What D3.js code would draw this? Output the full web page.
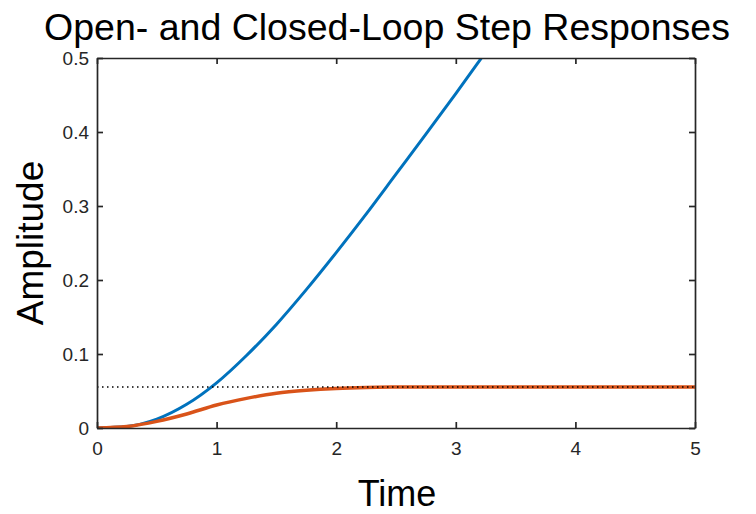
<!DOCTYPE html>
<html lang="en">
<head>
<meta charset="UTF-8">
<title>Open- and Closed-Loop Step Responses</title>
<script src="https://d3js.org/d3.v7.min.js"></script>
<style>
  body { margin: 0; background: #fff; }
  svg { display: block; }
</style>
</head>
<body>
<div id="chart"></div>
<script>
// Sample times (s)
const times = [0, 0.25, 0.5, 0.75, 1.0, 1.25, 1.5, 1.75, 2.0, 2.25, 2.5, 2.75, 3.0, 3.25,
  3.5, 4.0, 4.5, 5.0];
// Open-loop step response (goes off the top of the axes)
const openLoop = [0, 0.002, 0.012, 0.032, 0.061, 0.098, 0.140, 0.187, 0.237, 0.289,
  0.343, 0.397, 0.452, 0.508, 0.564, 0.676, 0.788, 0.900];
// Closed-loop step response
const closedLoop = [0, 0.002, 0.009, 0.019, 0.031, 0.040, 0.047, 0.051, 0.0535, 0.0548,
  0.0553, 0.0555, 0.0555, 0.0555, 0.0554, 0.0554, 0.0554, 0.0554];
// Closed-loop steady-state value (dotted line)
const steadyState = 0.0554;

const xTicks = [0, 1, 2, 3, 4, 5];
const yTicks = [0, 0.1, 0.2, 0.3, 0.4, 0.5];

const W = 756, H = 514;
const margin = { top: 58, right: 61, bottom: 86, left: 97 };
const width = W - margin.left - margin.right;
const height = H - margin.top - margin.bottom;
const axisColor = "#262626";
const font = "'Liberation Sans', Arial, Helvetica, sans-serif";

const svg = d3.select("#chart").append("svg")
  .attr("width", W)
  .attr("height", H)
  .style("font-family", font);

const g = svg.append("g")
  .attr("transform", "translate(" + margin.left + "," + margin.top + ")");

const x = d3.scaleLinear().domain([0, 5]).range([0, width]);
const y = d3.scaleLinear().domain([0, 0.5]).range([height, 0]);

g.append("clipPath").attr("id", "plot-clip")
  .append("rect").attr("width", width).attr("height", height);

const line = d3.line()
  .x((d, i) => x(times[i]))
  .y(d => y(d))
  .curve(d3.curveMonotoneX);

const plot = g.append("g").attr("clip-path", "url(#plot-clip)");

plot.append("path")
  .datum(openLoop)
  .attr("fill", "none")
  .attr("stroke", "#0072BD")
  .attr("stroke-width", 3)
  .attr("d", line);

plot.append("path")
  .datum(closedLoop)
  .attr("fill", "none")
  .attr("stroke", "#D95319")
  .attr("stroke-width", 3.5)
  .attr("d", line);

// steady-state marker line, drawn over the curves
plot.append("line")
  .attr("x1", x(0)).attr("x2", x(5))
  .attr("y1", y(steadyState)).attr("y2", y(steadyState))
  .attr("stroke", "#000")
  .attr("stroke-width", 1.3)
  .attr("stroke-dasharray", "1.5,3.5");

// Axes (MATLAB style: box, ticks inside on all four sides)
function styleAxis(sel, hideText) {
  sel.attr("font-family", font).attr("font-size", 19);
  sel.select(".domain").attr("stroke", axisColor).attr("stroke-width", 1.7);
  sel.selectAll(".tick line").attr("stroke", axisColor).attr("stroke-width", 1.7);
  sel.selectAll(".tick text").attr("fill", axisColor);
  if (hideText) sel.selectAll(".tick text").remove();
}

g.append("g")
  .attr("transform", "translate(0," + height + ")")
  .call(d3.axisBottom(x).tickValues(xTicks).tickSize(-6).tickSizeOuter(0).tickPadding(14)
    .tickFormat(d3.format("d")))
  .call(s => styleAxis(s, false));

g.append("g")
  .call(d3.axisTop(x).tickValues(xTicks).tickSize(-6).tickSizeOuter(0))
  .call(s => styleAxis(s, true));

g.append("g")
  .call(d3.axisLeft(y).tickValues(yTicks).tickSize(-6).tickSizeOuter(0).tickPadding(8)
    .tickFormat(d => d === 0 ? "0" : d3.format(".1f")(d)))
  .call(s => styleAxis(s, false));

g.append("g")
  .attr("transform", "translate(" + width + ",0)")
  .call(d3.axisRight(y).tickValues(yTicks).tickSize(-6).tickSizeOuter(0))
  .call(s => styleAxis(s, true));

// Labels
svg.append("text")
  .attr("x", 387).attr("y", 40)
  .attr("text-anchor", "middle")
  .attr("font-size", 37.5)
  .attr("fill", "#000")
  .text("Open- and Closed-Loop Step Responses");

svg.append("text")
  .attr("x", 397).attr("y", 506)
  .attr("text-anchor", "middle")
  .attr("font-size", 36)
  .attr("fill", "#000")
  .text("Time");

svg.append("text")
  .attr("transform", "translate(43," + (margin.top + height / 2) + ") rotate(-90)")
  .attr("text-anchor", "middle")
  .attr("font-size", 37)
  .attr("fill", "#000")
  .text("Amplitude");
</script>
</body>
</html>
